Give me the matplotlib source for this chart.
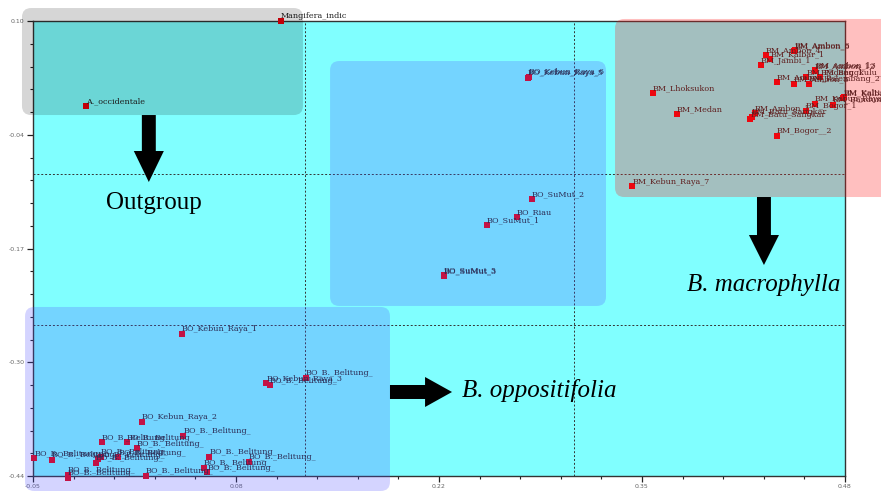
import matplotlib.pyplot as plt
from matplotlib.patches import FancyArrow, FancyBboxPatch

# PCoA coordinates
outgroup_names = ['Mangifera_indic', 'A._occidentale']
outgroup_x = [0.1119, -0.0154]
outgroup_y = [0.1000, -0.0009]

sumatra_names = ['BO_Kebun_Raya_5', 'BO_Kebun_Raya_6', 'BO_SuMut_2', 'BO_Riau',
                 'BO_SuMut_1', 'BO_SuMut_3', 'BO_SuMut_5']
sumatra_x = [0.2731, 0.2737, 0.2757, 0.2657, 0.2463, 0.2181, 0.2183]
sumatra_y = [0.0327, 0.0335, -0.1113, -0.1330, -0.1418, -0.2026, -0.2020]

macro_names = ['BM_Lhoksukon', 'BM_Medan', 'BM_Kebun_Raya_7', 'BM_Ambon_4',
               'BM_Kalbar_1', 'BM_Jambi_1', 'BM_Ambon_5', 'BM_Ambon_6',
               'BM_Ambon_2', 'BM_Ambon_3', 'BM_Palembang_2', 'BM_Padang_1',
               'BM_Bengkulu_4', 'BM_Ambon_12', 'BM_Ambon_13', 'BM_Batu_Sangkar',
               'BM_Batu_Sangkar', 'BM_Ambon_1', 'BM_Bogor_1', 'BM_Bandung_2',
               'BM_Kebun_Raya_4', 'BM_Kalbar_2', 'BM_Kaltim', 'BM_Bogor__2']
macro_x = [0.3545, 0.3701, 0.3412, 0.4282, 0.4312, 0.4252, 0.4469, 0.4474,
           0.4354, 0.4467, 0.4565, 0.4547, 0.4639, 0.4604, 0.4607, 0.4182,
           0.4193, 0.4213, 0.4543, 0.4720, 0.4604, 0.4789, 0.4793, 0.4354]
macro_y = [0.0145, -0.0107, -0.0962, 0.0596, 0.0553, 0.0474, 0.0648, 0.0656,
           0.0276, 0.0249, 0.0256, 0.0332, 0.0332, 0.0410, 0.0418, -0.0167,
           -0.0139, -0.0092, -0.0065, 0.0003, 0.0015, 0.0090, 0.0098, -0.0368]

oppo_names = ['BO_Kebun_Raya_1', 'BO_Kebun_Raya_3', 'BO_B._Belitung_',
              'BO_B._Belitung_', 'BO_Kebun_Raya_2'] + ['BO_B._Belitung_'] * 17
oppo_x = [0.0473, 0.1023, 0.1045, 0.1280, 0.0211, 0.0481, -0.0050, 0.0112,
          0.0179, -0.0492, -0.0378, -0.0078, -0.0056, -0.0089, 0.0058, 0.0652,
          0.0908, 0.0616, 0.0638, -0.0274, -0.0274, 0.0236]
oppo_y = [-0.2715, -0.3300, -0.3324, -0.3233, -0.3756, -0.3922, -0.4000,
          -0.4000, -0.4071, -0.4190, -0.4210, -0.4202, -0.4174, -0.4249,
          -0.4180, -0.4174, -0.4237, -0.4301, -0.4358, -0.4385, -0.4424,
          -0.4400]

x_ticks = [-0.05, 0.0825, 0.215, 0.3475, 0.48]
x_tick_labels = ['-0.05', '0.08', '0.22', '0.35', '0.48']
y_ticks = [0.10, -0.035, -0.17, -0.305, -0.44]
y_tick_labels = ['0.10', '-0.04', '-0.17', '-0.30', '-0.44']
x_cuts = [0.1275, 0.3031]
y_cuts = [-0.0816, -0.2608]

LABEL_FONT = 'DejaVu Serif'
BIG_FONT = 'Liberation Serif'


def draw_group(ax, names, xs, ys):
    ax.scatter(xs, ys, s=16, marker='s', color='#e8000b', linewidths=0,
               zorder=3, clip_on=False)
    for name, x, y in zip(names, xs, ys):
        ax.annotate(name, (x, y), xytext=(0, 2), textcoords='offset points',
                    fontsize=5.8, family=LABEL_FONT, color='#222222',
                    va='baseline', ha='left', zorder=3,
                    annotation_clip=False)


def add_box(ax, x0, y0, x1, y1, color, alpha):
    # corners stay round although x and y scales differ
    box = FancyBboxPatch((x0, y0), x1 - x0, y1 - y0,
                         boxstyle='round,pad=0,rounding_size=0.006',
                         mutation_aspect=1.82, facecolor=color, alpha=alpha,
                         edgecolor='none', zorder=5, clip_on=False)
    ax.add_patch(box)


fig = plt.figure(figsize=(8.81, 4.92), dpi=100)
ax = fig.add_axes([33 / 881, 16 / 492, 812 / 881, 455 / 492])
ax.set_facecolor('#80ffff')
ax.set_xlim(-0.05, 0.48)
ax.set_ylim(-0.44, 0.10)

for x in x_cuts:
    ax.axvline(x, color='#333333', linestyle=(0, (2, 2)), linewidth=0.7,
               zorder=1)
for y in y_cuts:
    ax.axhline(y, color='#333333', linestyle=(0, (2, 2)), linewidth=0.7,
               zorder=1)

draw_group(ax, outgroup_names, outgroup_x, outgroup_y)
draw_group(ax, sumatra_names, sumatra_x, sumatra_y)
draw_group(ax, macro_names, macro_x, macro_y)
draw_group(ax, oppo_names, oppo_x, oppo_y)

ax.set_xticks(x_ticks, x_tick_labels)
ax.set_yticks(y_ticks, y_tick_labels)
ax.minorticks_on()
from matplotlib.ticker import AutoMinorLocator
ax.xaxis.set_minor_locator(AutoMinorLocator(5))
ax.yaxis.set_minor_locator(AutoMinorLocator(5))
ax.tick_params(which='major', direction='out', length=4, width=0.9,
               color='#222222', labelsize=4.5, labelcolor='#666666', pad=2)
ax.tick_params(which='minor', direction='out', length=2.5, width=0.8,
               color='#222222')
for spine in ax.spines.values():
    spine.set_color('#333333')
    spine.set_linewidth(1.0)

# highlight boxes laid over the chart
add_box(ax, -0.0572, -0.0116, 0.1262, 0.1154, 'black', 0.16)
add_box(ax, 0.1439, -0.2382, 0.3240, 0.0525, '#4f4fff', 0.24)
add_box(ax, -0.0552, -0.4578, 0.1830, -0.2394, '#4f4fff', 0.24)
add_box(ax, 0.3299, -0.1089, 0.5200, 0.1024, '#ff1b1b', 0.28)

arrow_style = dict(color='black', length_includes_head=True, zorder=6,
                   clip_on=False, linewidth=0)
ax.add_patch(FancyArrow(0.0256, -0.0116, 0, -0.0795, width=0.0091,
                        head_width=0.0196, head_length=0.0368, **arrow_style))
ax.add_patch(FancyArrow(0.1830, -0.3403, 0.0405, 0, width=0.0166,
                        head_width=0.0356, head_length=0.0176, **arrow_style))
ax.add_patch(FancyArrow(0.4271, -0.1089, 0, -0.0807, width=0.0091,
                        head_width=0.0196, head_length=0.0356, **arrow_style))

ax.text(0.029, -0.116, 'Outgroup', fontsize=18, family=BIG_FONT,
        ha='center', va='center', zorder=6)
ax.text(0.230, -0.339, 'B. oppositifolia', fontsize=18, family=BIG_FONT,
        style='italic', ha='left', va='center', zorder=6)
ax.text(0.3769, -0.2133, 'B. macrophylla', fontsize=18, family=BIG_FONT,
        style='italic', ha='left', va='center', zorder=6)

fig.savefig('out.png', dpi=100)
